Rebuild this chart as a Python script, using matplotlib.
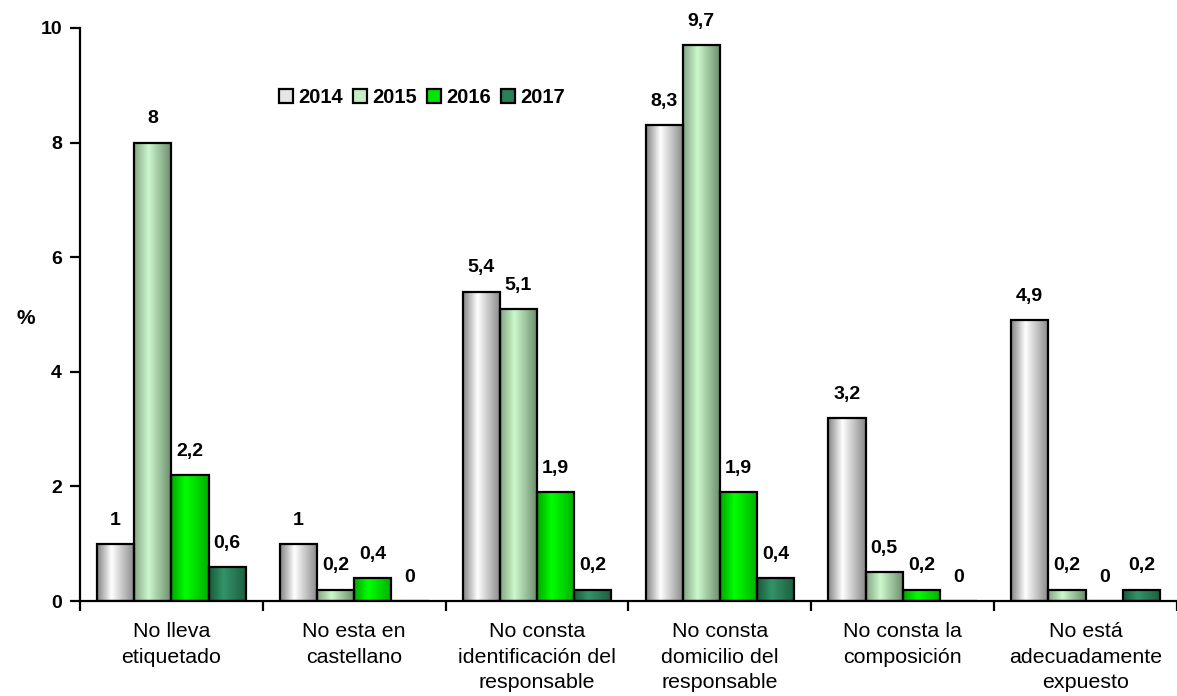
import numpy as np
import matplotlib
matplotlib.use("Agg")
import matplotlib.pyplot as plt
from matplotlib.colors import LinearSegmentedColormap
from matplotlib.patches import Patch

plt.rcParams['font.family'] = ['Liberation Sans', 'DejaVu Sans']

categories = [
    "No lleva\netiquetado",
    "No esta en\ncastellano",
    "No consta\nidentificación del\nresponsable",
    "No consta\ndomicilio del\nresponsable",
    "No consta la\ncomposición",
    "No está\nadecuadamente\nexpuesto",
]
years = ["2014", "2015", "2016", "2017"]
values_2014 = [1, 1, 5.4, 8.3, 3.2, 4.9]
values_2015 = [8, 0.2, 5.1, 9.7, 0.5, 0.2]
values_2016 = [2.2, 0.4, 1.9, 1.9, 0.2, 0]
values_2017 = [0.6, 0, 0.2, 0.4, 0, 0.2]
series = [values_2014, values_2015, values_2016, values_2017]

# horizontal shading for each series: (left edge, highlight, right edge)
shades = [
    ("#858585", "#ffffff", "#888888"),
    ("#84a684", "#ccf8cc", "#6a8b6a"),
    ("#00a800", "#00ff00", "#00b000"),
    ("#175c3a", "#33936a", "#1c5e3e"),
]
legend_colors = ["#e6e6e6", "#c4eec4", "#00e600", "#2a8058"]

fig = plt.figure(figsize=(11.77, 6.96), dpi=100)
ax = fig.add_axes([80 / 1177, 1 - 601 / 696, 1 - 80 / 1177, (601 - 28) / 696])

width = 0.2035
x = np.arange(len(categories))
grad = np.linspace(0, 1, 64).reshape(1, -1)

for i, (vals, shade) in enumerate(zip(series, shades)):
    cmap = LinearSegmentedColormap.from_list(
        f"shade{i}", [(0.0, shade[0]), (0.38, shade[1]), (1.0, shade[2])])
    offs = (i - 1.5) * width
    for xi, v in zip(x, vals):
        x0 = xi + offs - width / 2
        if v > 0:
            ax.imshow(grad, cmap=cmap, extent=(x0, x0 + width, 0, v),
                      aspect='auto', zorder=2, interpolation='bicubic')
    ax.bar(x + offs, vals, width=width, facecolor='none',
           edgecolor='black', linewidth=1.6, zorder=3)
    for xi, v in zip(x, vals):
        label = f"{v:g}".replace('.', ',')
        ax.annotate(label, (xi + offs, v), xytext=(0, 17),
                    textcoords='offset points', ha='center', va='center',
                    fontsize=14, fontweight='bold', zorder=4)

ax.set_xlim(-0.5, len(categories) - 0.5)
ax.set_ylim(0, 10)

ax.spines['top'].set_visible(False)
ax.spines['right'].set_visible(False)
for s in ('left', 'bottom'):
    ax.spines[s].set_linewidth(1.6)

ax.set_yticks(np.arange(0, 11, 2))
ax.tick_params(axis='y', direction='out', length=7, width=1.6,
               labelsize=14, pad=6)
for t in ax.get_yticklabels():
    t.set_fontweight('bold')

ax.set_xticks(np.arange(-0.5, len(categories), 1))
ax.set_xticklabels([])
ax.tick_params(axis='x', direction='out', length=7, width=1.6)
for xi, cat in zip(x, categories):
    ax.text(xi, -0.37, cat, ha='center', va='top', fontsize=15.4,
            linespacing=1.42, transform=ax.transData, clip_on=False)

fig.text(26 / 1177, 1 - 318 / 696, "%", ha='center', va='center',
         fontsize=15, fontweight='bold')

handles = [Patch(facecolor=c, edgecolor='black', linewidth=1.6)
           for c in legend_colors]
leg = ax.legend(handles, years, loc='center left',
                bbox_to_anchor=(0.174, 0.878), ncol=4, frameon=False,
                handlelength=0.7, handleheight=0.7, handletextpad=0.25,
                columnspacing=0.5, borderaxespad=0,
                prop={'size': 14.5, 'weight': 'bold'})

fig.savefig("out.png", dpi=100)
